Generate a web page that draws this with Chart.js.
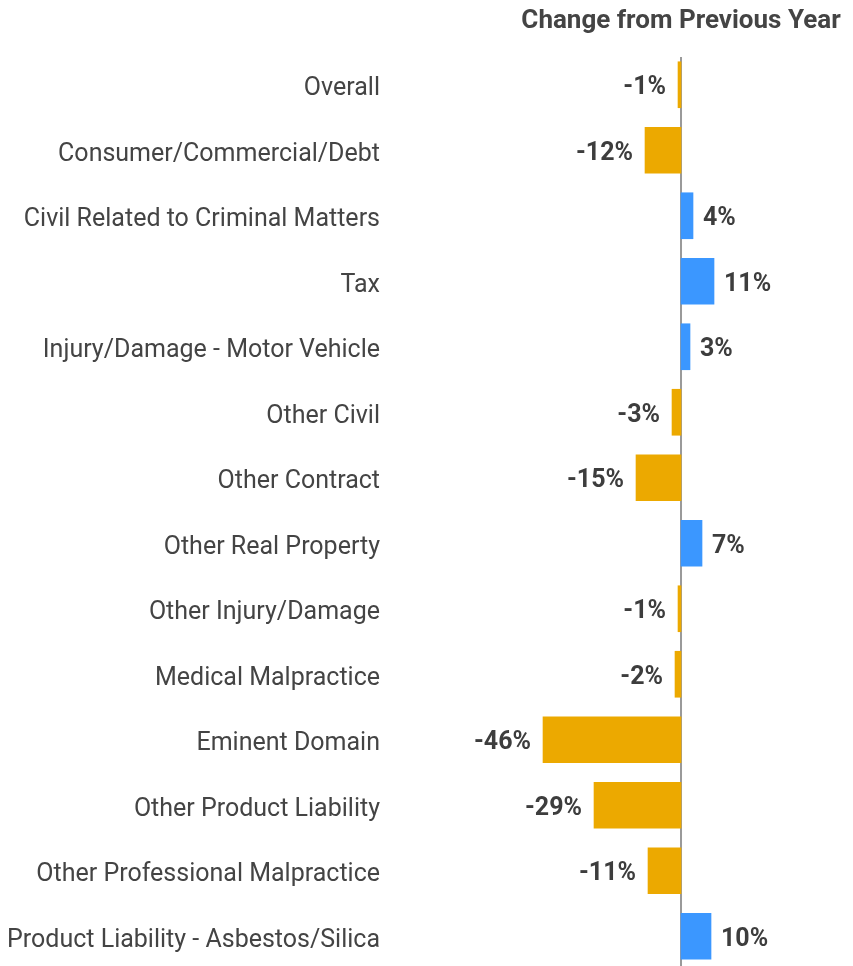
<!DOCTYPE html>
<html>
<head>
<meta charset="utf-8">
<script src="https://cdn.jsdelivr.net/npm/chart.js@4"></script>
<style>
  html, body { margin: 0; padding: 0; background: #fff; overflow: hidden; }
  #wrap { width: 853px; height: 969px; }
</style>
</head>
<body>
<div id="wrap"><canvas id="chart"></canvas></div>
<script>
const categories = [
  "Overall",
  "Consumer/Commercial/Debt",
  "Civil Related to Criminal Matters",
  "Tax",
  "Injury/Damage - Motor Vehicle",
  "Other Civil",
  "Other Contract",
  "Other Real Property",
  "Other Injury/Damage",
  "Medical Malpractice",
  "Eminent Domain",
  "Other Product Liability",
  "Other Professional Malpractice",
  "Product Liability - Asbestos/Silica",
];
const changes = [-1, -12, 4, 11, 3, -3, -15, 7, -1, -2, -46, -29, -11, 10];
const titleText = "Change from Previous Year";

const ORANGE = "#ECA900";
const BLUE = "#3B97FF";
const TEXT = "#3d3d3d";
const labelFont = '"Roboto", sans-serif';

// zero line drawn under the bars
const zeroLine = {
  id: "zeroLine",
  beforeDatasetsDraw: (chart) => {
    const { ctx, chartArea } = chart;
    const x = chart.scales.x.getPixelForValue(0);
    ctx.save();
    ctx.strokeStyle = "#9a9a9a";
    ctx.lineWidth = 2;
    ctx.beginPath();
    ctx.moveTo(x, chartArea.top + 5);
    ctx.lineTo(x, chartArea.bottom);
    ctx.stroke();
    ctx.restore();
  },
};

// value labels next to each bar + title over the zero line
const valueLabels = {
  id: "valueLabels",
  afterDatasetsDraw: (chart) => {
    const { ctx } = chart;
    const meta = chart.getDatasetMeta(0);
    ctx.save();
    ctx.font = "bold 25px " + labelFont;
    ctx.fillStyle = TEXT;
    ctx.textBaseline = "middle";
    meta.data.forEach((bar, i) => {
      const v = changes[i];
      if (v < 0) {
        ctx.textAlign = "right";
        ctx.fillText(v + "%", bar.x - 12, bar.y + 3);
      } else {
        ctx.textAlign = "left";
        ctx.fillText(v + "%", bar.x + 10, bar.y + 3);
      }
    });
    const zeroX = chart.scales.x.getPixelForValue(0);
    ctx.font = "bold 26px " + labelFont;
    ctx.textAlign = "center";
    ctx.fillStyle = "#444";
    ctx.fillText(titleText, zeroX, 21);
    ctx.restore();
  },
};

new Chart(document.querySelector("#chart"), {
  type: "bar",
  data: {
    labels: categories,
    datasets: [
      {
        data: changes,
        backgroundColor: changes.map((v) => (v < 0 ? ORANGE : BLUE)),
        barThickness: 46,
      },
    ],
  },
  options: {
    indexAxis: "y",
    responsive: true,
    maintainAspectRatio: false,
    animation: false,
    layout: { padding: { top: 52, right: 0, bottom: 0, left: 0 } },
    plugins: {
      legend: { display: false },
      tooltip: { enabled: false },
    },
    scales: {
      x: {
        display: false,
        min: -93.67,
        max: 57.33,
      },
      y: {
        afterFit: (scale) => {
          scale.width = 400;
          scale.paddingTop = 0;
          scale.paddingBottom = 0;
        },
        border: { display: false },
        grid: { display: false, drawTicks: false },
        ticks: {
          padding: 20,
          labelOffset: 4,
          color: "#444",
          font: { family: labelFont, size: 25 },
          autoSkip: false,
        },
      },
    },
  },
  plugins: [zeroLine, valueLabels],
});
</script>
</body>
</html>
